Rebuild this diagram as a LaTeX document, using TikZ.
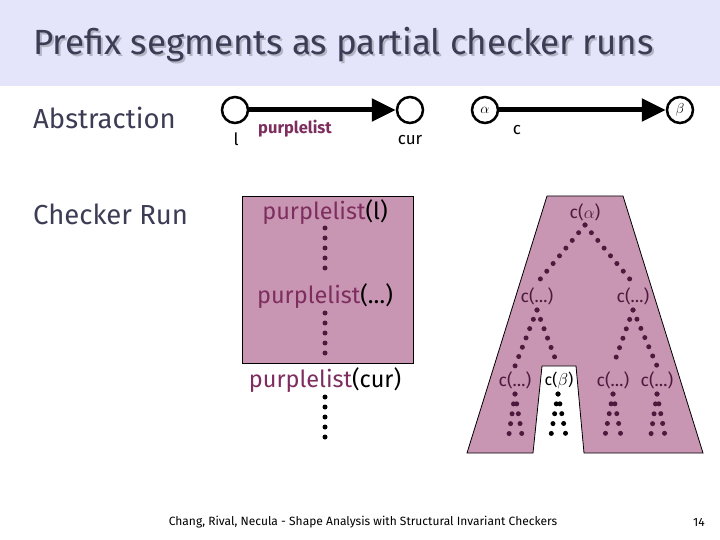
\documentclass[tikz,border=0pt]{standalone}
\usepackage{fontspec}
\setmainfont{Fira Sans}
\usetikzlibrary{arrows.meta}
\definecolor{barbg}{HTML}{E4E4FA}
\definecolor{titlec}{HTML}{3C3C55}
\definecolor{shadowc}{HTML}{B4B4C4}
\definecolor{purp}{HTML}{7D2D5E}
\definecolor{pinkfill}{HTML}{C896B2}
\definecolor{dotc}{HTML}{4B1A3C}
\tikzset{
  vtx/.style={circle, draw=black, line width=2.5pt, fill=white, minimum size=26pt, inner sep=0pt, font=\fontsize{15}{15}\selectfont},
  edge/.style={line width=5pt, -{Triangle[length=24pt,width=22pt]}},
  lab/.style={font=\fontsize{17}{17}\selectfont, inner sep=0pt},
  big/.style={font=\fontsize{23.5}{23.5}\selectfont, inner sep=0pt},
  side/.style={font=\fontsize{27.5}{27.5}\selectfont, anchor=west, inner sep=0pt, text=titlec},
  tl/.style={font=\fontsize{17.5}{17.5}\selectfont, inner sep=0pt, text=dotc},
  dots/.style={line width=5pt, line cap=round, dash pattern=on 0pt off 10pt, draw=dotc},
  bdots/.style={dots, draw=black},
  region/.style={fill=pinkfill, draw=black, line width=0.8pt},
  ttl/.style={font=\fontsize{35}{35}\selectfont, anchor=base west, inner sep=0pt}
}
\begin{document}
\begin{tikzpicture}[x=1pt,y=-1pt]
\useasboundingbox (0,0) rectangle (720,540);
\fill[barbg] (0,0) rectangle (720,86);
% title
\node[ttl, text=shadowc] (tshadow) at (35,57) {Prefix segments as partial checker runs};
\node[ttl, text=titlec] (title) at (33,55) {Prefix segments as partial checker runs};
% side labels
\node[side] (abs) at (33,118) {Abstraction};
\node[side] (chk) at (33,214) {Checker Run};
% abstraction
\node[vtx] (l) at (235,110) {};
\node[vtx] (cur) at (410,110) {};
\draw[edge] (l) -- (cur);
\node[lab] (ll) at (236,139) {l};
\node[lab, text=purp, font=\bfseries\fontsize{16.5}{16.5}\selectfont] (pl) at (295,129) {purplelist};
\node[lab] (lcur) at (410,140) {cur};
\node[vtx] (a) at (485,110) {$\alpha$};
\node[vtx] (b) at (680,110) {$\beta$};
\draw[edge] (a) -- (b);
\node[lab] (lc) at (517,130) {c};
% checker run left
\draw[region] (242,196) rectangle (413,363);
\node[big] (p1) at (325,212) {\textcolor{purp}{purplelist}(l)};
\node[big] (p2) at (325,296) {\textcolor{purp}{purplelist}(…)};
\node[big] (p3) at (325,380) {\textcolor{purp}{purplelist}(cur)};
\draw[dots] (325,228) -- (325,270);
\draw[dots] (325,313) -- (325,355);
\coordinate (pend) at (325,440);
\draw[bdots] (325,397) -- (pend);
% tree region
\draw[region] (547,196) -- (623,196) -- (703,453) -- (584,453) -- (576,366) -- (542,366) -- (533,453) -- (467,453) -- cycle;
\node[tl] (ca) at (585,212) {c($\alpha$)};
\node[tl] (cl) at (537,296) {c(…)};
\node[tl] (cr) at (633,296) {c(…)};
\node[tl] (cll) at (515,380) {c(…)};
\node[tl, text=black, font=\fontsize{16}{16}\selectfont] (clr) at (559,380) {c($\beta$)};
\node[tl] (crl) at (613,380) {c(…)};
\node[tl] (crr) at (657,380) {c(…)};
\draw[dots] (585,225) -- (537,283);
\draw[dots] (585,225) -- (633,283);
\draw[dots] (537,310) -- (515,366);
\draw[dots] (537,310) -- (558,366);
\draw[dots] (633,310) -- (613,366);
\draw[dots] (633,310) -- (657,366);
\draw[dots] (515,394) -- (508,441);
\draw[dots] (515,394) -- (523,441);
\draw[bdots] (558,394) -- (550,441);
\draw[bdots] (558,394) -- (567,441);
\draw[dots] (613,394) -- (604,441);
\draw[dots] (613,394) -- (622,441);
\draw[dots] (657,394) -- (650,441);
\draw[dots] (657,394) -- (666,441);
% footer
\node[font=\fontsize{12}{12}\selectfont, inner sep=0pt] (foot) at (363,522) {Chang, Rival, Necula - Shape Analysis with Structural Invariant Checkers};
\node[font=\fontsize{12}{12}\selectfont, inner sep=0pt] (pg) at (699,522) {14};
\end{tikzpicture}
\end{document}
